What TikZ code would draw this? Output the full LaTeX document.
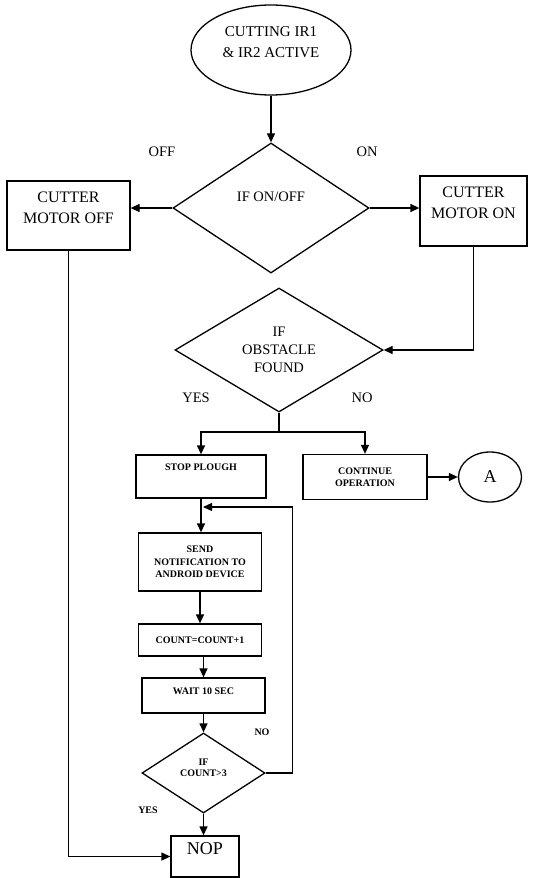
\documentclass[tikz,border=0pt]{standalone}
\usepackage{fontspec}
\setmainfont{Liberation Serif}
\usepackage{tikz}
\usetikzlibrary{arrows.meta, shapes.geometric}
\tikzset{
    flowbox/.style = {draw=black, line width=1.3pt, rectangle, inner sep=0pt,
        align=center, font=\fontsize{16}{21}\selectfont},
    smallbox/.style = {flowbox, font=\fontsize{10}{12.5}\selectfont\bfseries},
    decision/.style = {draw=black, line width=1.3pt, diamond, inner sep=0pt,
        align=center, font=\fontsize{14.5}{18}\selectfont},
    terminal/.style = {draw=black, line width=1.3pt, ellipse, inner sep=0pt,
        align=center, font=\fontsize{15}{21}\selectfont},
    branch/.style = {inner sep=0pt, font=\fontsize{14.5}{16}\selectfont},
    smallbranch/.style = {inner sep=0pt, font=\fontsize{10}{12}\selectfont\bfseries},
}

\begin{document}
\begin{tikzpicture}[->,>={Triangle[length=9pt,width=8pt]},x=1pt,y=-1pt,line width=1.3pt]
        \path[use as bounding box] (0,0) rectangle (541,878);
        % top part
        \node [terminal, minimum width=160pt, minimum height=90pt] (start) at (271,50)
            {CUTTING IR1\\\& IR2 ACTIVE\\[-6pt]\mbox{}};
        \node [decision, minimum width=196pt, minimum height=130pt] (onoff) at (271,208)
            {IF ON/OFF\\[5pt]\mbox{}};
        \node [flowbox, minimum width=123pt, minimum height=69pt] (motoroff) at (68.5,215.5)
            {CUTTER\\MOTOR OFF\\[-5pt]\mbox{}};
        \node [flowbox, minimum width=107pt, minimum height=70pt] (motoron) at (473.5,211)
            {CUTTER\\MOTOR ON\\[-4pt]\mbox{}};
        \node [branch] (offlbl) at (162,152) {OFF};
        \node [branch] (onlbl) at (367,152) {ON};
        \node [decision, minimum width=208pt, minimum height=124pt] (obstacle) at (279,350)
            {IF\\OBSTACLE\\FOUND};
        \node [branch] (yeslbl) at (196,398) {YES};
        \node [branch] (nolbl) at (362,398) {NO};
        \coordinate (split) at (279,432);
        % lower part
        \node [smallbox, minimum width=130pt, minimum height=43pt] (stop) at (201,476.5)
            {STOP PLOUGH\\[6.5pt]\mbox{}};
        \node [smallbox, minimum width=124pt, minimum height=45pt] (continue) at (365,477)
            {CONTINUE\\OPERATION};
        \node [terminal, minimum width=63pt, minimum height=50pt, font=\fontsize{18}{20}\selectfont] (A) at (490,477) {A};
        \node [smallbox, minimum width=123pt, minimum height=58pt] (send) at (200,562)
            {SEND\\NOTIFICATION TO\\ANDROID DEVICE};
        \node [smallbox, minimum width=123pt, minimum height=32pt] (count) at (200,640)
            {COUNT=COUNT+1};
        \node [smallbox, minimum width=123pt, minimum height=35pt] (wait) at (203.5,695.5)
            {WAIT 10 SEC\\[-3.5pt]\mbox{}};
        \node [decision, minimum width=123pt, minimum height=80pt,
            font=\fontsize{10}{11}\selectfont\bfseries] (check) at (203.5,773)
            {IF\\COUNT>3\\\mbox{}};
        \node [smallbranch] (nolbl2) at (262,732) {NO};
        \node [smallbranch] (yeslbl2) at (148,810) {YES};
        \node [flowbox, minimum width=68pt, minimum height=41pt, font=\fontsize{18}{20}\selectfont] (nop) at (205,856.5)
            {NOP\\[-5pt]\mbox{}};
        \coordinate (loopin) at (203,507);

        \draw (start) -- (onoff);
        \draw (onoff.west) -- (onoff.west -| motoroff.east);
        \draw (onoff.east) -- (onoff.east -| motoron.west);
        \draw (motoroff.south) |- (nop.west);
        \draw (motoron.south) |- (obstacle.east);
        \draw[-] (obstacle.south) -- (split);
        \draw (split) -| (stop.north);
        \draw (split) -| (continue.north);
        \draw (continue.east) -- (A.west);
        \draw (stop.south) -- (stop.south |- send.north);
        \draw (send.south) -- (send.south |- count.north);
        \draw (count.south -| wait.north) -- (wait.north);
        \draw (wait.south) -- (check.north);
        \draw (check.south) -- (check.south |- nop.north);
        \draw (check.east) -- ++(27,0) |- (loopin);
\end{tikzpicture}
\end{document}
